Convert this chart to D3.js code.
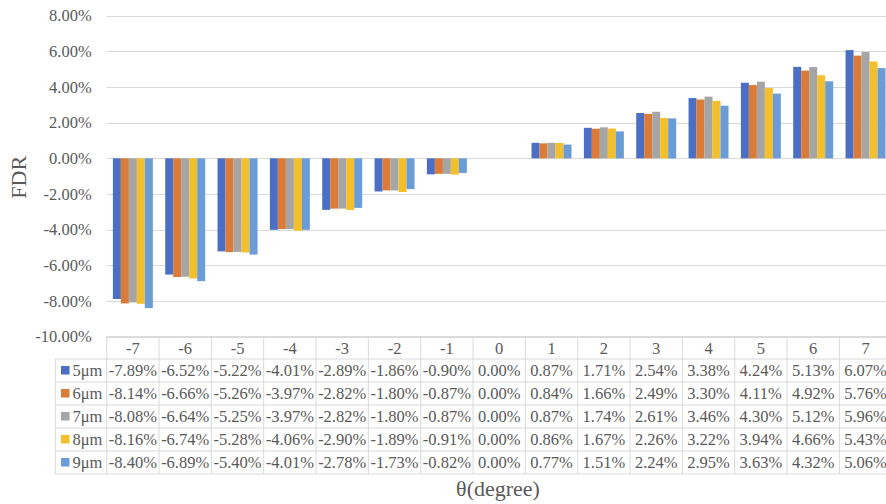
<!DOCTYPE html>
<html>
<head>
<meta charset="utf-8">
<script src="https://cdn.jsdelivr.net/npm/d3@7"></script>
<style>
  html, body { margin: 0; padding: 0; background: #fff; overflow: hidden; }
  svg { display: block; font-family: "Liberation Serif", "Times New Roman", serif; }
</style>
</head>
<body>
<svg id="chart" width="886" height="504"></svg>
<script>
// FDR (%) against tilt angle θ for five pixel sizes
const angles = [-7, -6, -5, -4, -3, -2, -1, 0, 1, 2, 3, 4, 5, 6, 7];
const seriesNames = ["5μm", "6μm", "7μm", "8μm", "9μm"];
const fdr5 = [-7.89, -6.52, -5.22, -4.01, -2.89, -1.86, -0.90, 0.00, 0.87, 1.71, 2.54, 3.38, 4.24, 5.13, 6.07];
const fdr6 = [-8.14, -6.66, -5.26, -3.97, -2.82, -1.80, -0.87, 0.00, 0.84, 1.66, 2.49, 3.30, 4.11, 4.92, 5.76];
const fdr7 = [-8.08, -6.64, -5.25, -3.97, -2.82, -1.80, -0.87, 0.00, 0.87, 1.74, 2.61, 3.46, 4.30, 5.12, 5.96];
const fdr8 = [-8.16, -6.74, -5.28, -4.06, -2.90, -1.89, -0.91, 0.00, 0.86, 1.67, 2.26, 3.22, 3.94, 4.66, 5.43];
const fdr9 = [-8.40, -6.89, -5.40, -4.01, -2.78, -1.73, -0.82, 0.00, 0.77, 1.51, 2.24, 2.95, 3.63, 4.32, 5.06];
const yTicks = [-10, -8, -6, -4, -2, 0, 2, 4, 6, 8];

const seriesValues = [fdr5, fdr6, fdr7, fdr8, fdr9];
const colors = ["#4a6fc5", "#dc7b38", "#a5a5a5", "#f3bf2b", "#6a9cd8"];

const svg = d3.select("#chart");
const plotLeft = 106.7, plotRight = 891.7;
const plotTop = 15.7, plotBottom = 336.6;
const textColor = "#595959", lineColor = "#d9d9d9";

const x0 = d3.scaleBand().domain(angles).range([plotLeft, plotRight]).padding(0);
const bw = x0.bandwidth();
const x1 = d3.scaleBand().domain(d3.range(seriesNames.length))
  .range([bw * 0.118, bw * 0.882]).padding(0);
const y = d3.scaleLinear().domain([-10, 8]).range([plotBottom, plotTop]);

const fmt = v => v.toFixed(2) + "%";

// horizontal gridlines
svg.append("g").selectAll("line").data(yTicks).join("line")
  .attr("x1", plotLeft).attr("x2", plotRight)
  .attr("y1", d => Math.round(y(d)) + 0.5).attr("y2", d => Math.round(y(d)) + 0.5)
  .attr("stroke", lineColor).attr("stroke-width", 1);

// y axis labels
const yAxis = d3.axisLeft(y).tickValues(yTicks).tickFormat(fmt).tickSize(0).tickPadding(0);
const gy = svg.append("g").attr("transform", `translate(${plotLeft - 15},0)`).call(yAxis);
gy.select(".domain").remove();
gy.selectAll("text").attr("fill", textColor).style("font-size", "16.5px")
  .style("font-family", "'Liberation Serif', serif");

// bars
const groups = svg.append("g").selectAll("g").data(angles).join("g")
  .attr("transform", d => `translate(${x0(d)},0)`);
groups.selectAll("rect")
  .data((a, i) => seriesValues.map((vals, s) => ({ s, v: vals[i] })))
  .join("rect")
  .attr("x", d => x1(d.s))
  .attr("width", x1.bandwidth())
  .attr("y", d => y(Math.max(0, d.v)))
  .attr("height", d => Math.abs(y(d.v) - y(0)))
  .attr("fill", d => colors[d.s]);

// data table under the plot
const tableTop = plotBottom;
const headerH = 22.4;
const rowH = 23;
const keyLeft = 55.3;
const rowsTop = tableTop + headerH;
const tableBottom = rowsTop + rowH * seriesNames.length;
const table = svg.append("g");

// horizontal rules
table.append("line")
  .attr("x1", plotLeft).attr("x2", plotRight)
  .attr("y1", tableTop).attr("y2", tableTop)
  .attr("stroke", lineColor);
table.selectAll("line.h").data(d3.range(seriesNames.length + 1)).join("line")
  .attr("class", "h")
  .attr("x1", keyLeft).attr("x2", plotRight)
  .attr("y1", i => rowsTop + i * rowH).attr("y2", i => rowsTop + i * rowH)
  .attr("stroke", lineColor);
// vertical rules
table.selectAll("line.v").data(angles.concat(["end"])).join("line")
  .attr("class", "v")
  .attr("x1", d => d === "end" ? plotRight : x0(d))
  .attr("x2", d => d === "end" ? plotRight : x0(d))
  .attr("y1", tableTop).attr("y2", tableBottom)
  .attr("stroke", lineColor);
table.append("line")
  .attr("x1", keyLeft).attr("x2", keyLeft)
  .attr("y1", rowsTop).attr("y2", tableBottom)
  .attr("stroke", lineColor);

// column headers (category axis)
table.selectAll("text.hdr").data(angles).join("text")
  .attr("class", "hdr")
  .attr("x", d => x0(d) + bw / 2)
  .attr("y", tableTop + headerH / 2)
  .attr("dy", "0.35em")
  .attr("text-anchor", "middle")
  .attr("fill", textColor)
  .style("font-size", "16.5px")
  .text(d => d);

// legend keys and series names
const keyRows = table.selectAll("g.row").data(seriesNames).join("g")
  .attr("class", "row")
  .attr("transform", (d, i) => `translate(0,${rowsTop + i * rowH + rowH / 2})`);
keyRows.append("rect")
  .attr("x", 61).attr("y", -4.5).attr("width", 8.5).attr("height", 8.5)
  .attr("fill", (d, i) => colors[i]);
keyRows.append("text")
  .attr("x", 72.5).attr("dy", "0.35em")
  .attr("fill", textColor)
  .style("font-size", "16.5px")
  .text(d => d);
keyRows.selectAll("text.val")
  .data((d, i) => seriesValues[i].map((v, j) => ({ v, a: angles[j] })))
  .join("text")
  .attr("class", "val")
  .attr("x", d => x0(d.a) + bw / 2)
  .attr("dy", "0.35em")
  .attr("text-anchor", "middle")
  .attr("fill", textColor)
  .style("font-size", "16.5px")
  .text(d => fmt(d.v));

// axis titles
svg.append("text")
  .attr("transform", `translate(26,${y(0) + 19}) rotate(-90)`)
  .attr("text-anchor", "middle")
  .attr("fill", textColor)
  .style("font-size", "22px")
  .text("FDR");
svg.append("text")
  .attr("x", 498).attr("y", 496)
  .attr("text-anchor", "middle")
  .attr("fill", textColor)
  .style("font-size", "22px")
  .text("θ(degree)");
</script>
</body>
</html>
